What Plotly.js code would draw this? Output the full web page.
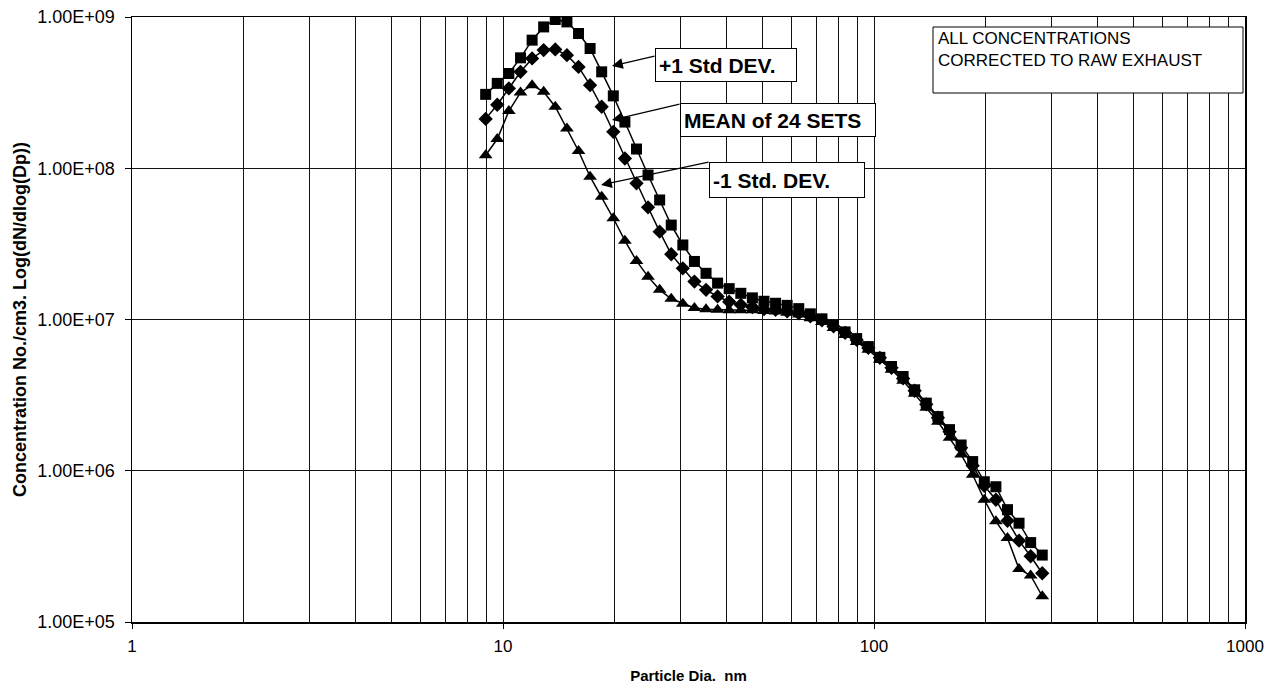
<!DOCTYPE html>
<html>
<head>
<meta charset="utf-8">
<script src="https://cdn.plot.ly/plotly-3.0.1.min.js"></script>
<style>
  html, body { margin: 0; padding: 0; background: #fff; }
  #chart { width: 1271px; height: 690px; }
</style>
</head>
<body>
<div id="chart"></div>
<script>
// Particle diameter (nm)
const diameters = [8.98, 9.65, 10.37, 11.15, 11.98, 12.87, 13.83, 14.87, 15.98, 17.17,
  18.45, 19.83, 21.31, 22.90, 24.60, 26.44, 28.41, 30.53, 32.81, 35.26,
  37.88, 40.71, 43.75, 47.01, 50.52, 54.29, 58.33, 62.69, 67.36, 72.39,
  77.78, 83.59, 89.82, 96.54, 103.7, 111.5, 119.8, 128.7, 138.3, 148.7,
  159.8, 171.7, 184.5, 198.3, 213.1, 229.0, 246.0, 264.4, 284.1];

// +1 Std DEV.
const plusSD = [3.08e8, 3.64e8, 4.23e8, 5.37e8, 7.03e8, 8.60e8, 9.63e8, 9.28e8, 7.78e8, 6.19e8,
  4.34e8, 3.01e8, 2.02e8, 1.34e8, 9.02e7, 6.17e7, 4.21e7, 3.11e7, 2.42e7, 2.02e7,
  1.74e7, 1.60e7, 1.49e7, 1.39e7, 1.32e7, 1.28e7, 1.24e7, 1.18e7, 1.09e7, 1.01e7,
  9.14e6, 8.28e6, 7.48e6, 6.62e6, 5.62e6, 4.89e6, 4.20e6, 3.43e6, 2.80e6, 2.28e6,
  1.87e6, 1.48e6, 1.15e6, 8.46e5, 7.84e5, 5.53e5, 4.50e5, 3.35e5, 2.77e5];

// MEAN of 24 SETS
const meanSets = [2.12e8, 2.63e8, 3.37e8, 4.34e8, 5.32e8, 6.04e8, 6.10e8, 5.59e8, 4.68e8, 3.54e8,
  2.55e8, 1.74e8, 1.16e8, 7.95e7, 5.52e7, 3.81e7, 2.70e7, 2.18e7, 1.78e7, 1.57e7,
  1.42e7, 1.31e7, 1.25e7, 1.21e7, 1.17e7, 1.16e7, 1.13e7, 1.10e7, 1.05e7, 9.87e6,
  9.00e6, 8.16e6, 7.33e6, 6.49e6, 5.58e6, 4.79e6, 4.08e6, 3.38e6, 2.75e6, 2.24e6,
  1.81e6, 1.42e6, 1.08e6, 7.96e5, 6.43e5, 4.67e5, 3.45e5, 2.72e5, 2.10e5];

// -1 Std. DEV.
const minusSD = [1.22e8, 1.56e8, 2.39e8, 3.17e8, 3.54e8, 3.20e8, 2.55e8, 1.83e8, 1.30e8, 8.79e7,
  6.48e7, 4.67e7, 3.32e7, 2.44e7, 1.92e7, 1.57e7, 1.37e7, 1.27e7, 1.19e7, 1.17e7,
  1.16e7, 1.15e7, 1.15e7, 1.15e7, 1.14e7, 1.13e7, 1.11e7, 1.08e7, 1.02e7, 9.64e6,
  8.80e6, 7.91e6, 7.11e6, 6.30e6, 5.41e6, 4.65e6, 3.93e6, 3.23e6, 2.61e6, 2.11e6,
  1.65e6, 1.28e6, 9.41e5, 6.43e5, 4.63e5, 3.59e5, 2.24e5, 2.03e5, 1.48e5];

const seriesNames = ['+1 Std DEV.', 'MEAN of 24 SETS', '-1 Std. DEV.'];
const xTickVals = [1, 10, 100, 1000];
const xTickText = ['1', '10', '100', '1000'];
const yTickVals = [1e5, 1e6, 1e7, 1e8, 1e9];
const yTickText = ['1.00E+05', '1.00E+06', '1.00E+07', '1.00E+08', '1.00E+09'];
const noteLines = ['ALL CONCENTRATIONS', 'CORRECTED TO RAW EXHAUST'];

const FONT = 'Liberation Sans, Arial, Helvetica, sans-serif';
const INK = '#000000';

function trace(y, name, symbol, size) {
  return {
    x: diameters, y: y, name: name, type: 'scatter', mode: 'lines+markers',
    line: { color: INK, width: 1.5 },
    marker: { symbol: symbol, size: size, color: INK, line: { width: 0 } },
    showlegend: false, hoverinfo: 'x+y'
  };
}

const data = [
  trace(plusSD, seriesNames[0], 'square', 11),
  trace(meanSets, seriesNames[1], 'diamond', 11),
  trace(minusSD, seriesNames[2], 'triangle-up', 12)
];

// plot area in pixels: left 132, right 1245, top 17, bottom 622
const L = 132, R = 1245, T = 17, B = 622;
const px = v => (v - L) / (R - L);
const py = v => (B - v) / (B - T);

function box(text, left, cy, w, h) {
  return {
    xref: 'paper', yref: 'paper', x: px(left), y: py(cy),
    xanchor: 'left', yanchor: 'middle', text: '<b>' + text + '</b>',
    showarrow: false, align: 'left', width: w, height: h,
    bgcolor: '#ffffff', bordercolor: INK, borderwidth: 1, borderpad: 3,
    font: { family: FONT, size: 21, color: INK }
  };
}
function arrow(hx, hy, tx, ty) {
  return {
    xref: 'paper', yref: 'paper', x: px(hx), y: py(hy), text: ' ',
    showarrow: true, ax: tx - hx, ay: ty - hy, arrowhead: 2, arrowsize: 1.8,
    arrowwidth: 1.2, arrowcolor: INK, standoff: 0, startstandoff: 0,
    font: { size: 1 }, borderpad: 0
  };
}

const layout = {
  width: 1271, height: 690,
  margin: { l: L, r: 1271 - R, t: T, b: 690 - B },
  paper_bgcolor: '#ffffff', plot_bgcolor: '#ffffff',
  font: { family: FONT, color: INK },
  xaxis: {
    type: 'log', range: [0, 3],
    tickmode: 'array', tickvals: xTickVals, ticktext: xTickText,
    tickfont: { size: 17, family: FONT, color: INK },
    ticklabelstandoff: 3,
    showgrid: true, gridcolor: '#111', gridwidth: 1,
    minor: { dtick: 'D1', showgrid: true, gridcolor: '#111', gridwidth: 1, ticks: '' },
    ticks: 'outside', ticklen: 5, tickcolor: INK,
    showline: true, linecolor: INK, linewidth: 1.5, mirror: true,
    zeroline: false,
    title: { text: '<b>Particle Dia.  nm</b>', font: { size: 15, family: FONT, color: INK }, standoff: 15 }
  },
  yaxis: {
    type: 'log', range: [5, 9],
    tickmode: 'array', tickvals: yTickVals, ticktext: yTickText,
    tickfont: { size: 18, family: FONT, color: INK },
    ticklabelstandoff: 6,
    showgrid: true, gridcolor: '#111', gridwidth: 1,
    ticks: 'outside', ticklen: 6, tickcolor: INK,
    showline: true, linecolor: INK, linewidth: 1.5, mirror: true,
    zeroline: false,
    title: { text: '<b>Concentration No./cm3. Log(dN/dlog(Dp))</b>', font: { size: 18, family: FONT, color: INK }, standoff: 6 }
  },
  shapes: [{
    type: 'rect', xref: 'paper', yref: 'paper', layer: 'above',
    x0: px(933), x1: px(1243), y0: py(93), y1: py(27),
    fillcolor: '#ffffff', line: { color: INK, width: 1 }
  }],
  annotations: [
    {
      xref: 'paper', yref: 'paper', x: px(936), y: py(27), xanchor: 'left', yanchor: 'top',
      text: noteLines.join('<br>'), showarrow: false, align: 'left',
      font: { family: FONT, size: 17, color: INK }
    },
    arrow(612, 66, 655, 56),
    arrow(612, 120, 680, 104),
    arrow(601, 185, 709, 162),
    box(seriesNames[0], 655, 65, 134, 26),
    box(seriesNames[1], 680, 120, 188, 26),
    box(seriesNames[2], 709, 180, 148, 28)
  ]
};

Plotly.newPlot('chart', data, layout, { displayModeBar: false, staticPlot: true });
</script>
</body>
</html>
